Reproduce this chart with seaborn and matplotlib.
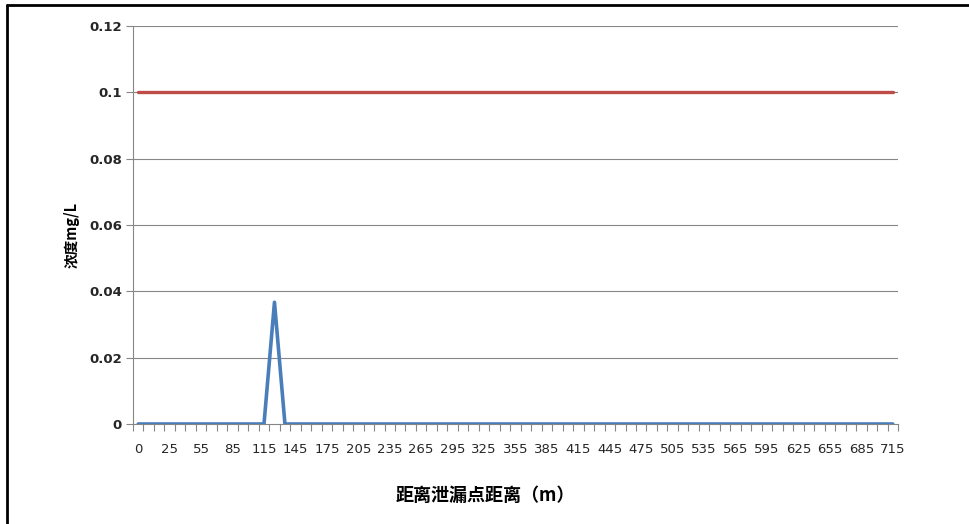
import numpy as np
import pandas as pd
import matplotlib
matplotlib.use("Agg")
import matplotlib.pyplot as plt
from matplotlib.lines import Line2D
import seaborn as sns

# ---- data ----
distances = [0] + list(range(5, 716, 10))          # 0, 5, 15, ..., 715
concentration = [0.0] * len(distances)
concentration[distances.index(125)] = 0.0367
standard = [0.1] * len(distances)
y_ticks = [0, 0.02, 0.04, 0.06, 0.08, 0.1, 0.12]
y_tick_labels = ["0", "0.02", "0.04", "0.06", "0.08", "0.1", "0.12"]
x_label = "距离泄漏点距离（m）"
y_label = "浓度mg/L"

sns.set_theme(style="white")
plt.rcParams['font.family'] = ['Noto Sans CJK SC', 'DejaVu Sans']

n = len(distances)
df = pd.DataFrame({"pos": np.arange(n), "conc": concentration, "std": standard})

fig = plt.figure(figsize=(9.69, 5.24), dpi=100)
ax = fig.add_axes([133/969, 1-424/524, (898-133)/969, (424-26)/524])

grid_c = "#868686"
for y in y_ticks[1:]:
    ax.axhline(y, color=grid_c, lw=0.8, zorder=1)

sns.lineplot(data=df, x="pos", y="std", ax=ax, color="#BE4B48", lw=2.4, zorder=3)
sns.lineplot(data=df, x="pos", y="conc", ax=ax, color="#4A7EBB", lw=2.6, zorder=4)

ax.set_xlim(-0.5, n - 0.5)
ax.set_ylim(0, 0.12)
ax.set_yticks(y_ticks)
ax.set_yticklabels(y_tick_labels, fontsize=9.5, fontweight="bold", color="#262626",
                   family=['DejaVu Sans'])
# category boundary ticks
ax.set_xticks(np.arange(n + 1) - 0.5)
ax.set_xticklabels([])
lab_pos = list(range(0, n, 3))
ax.set_xticks(lab_pos, minor=True)
ax.set_xticklabels([str(distances[i]) for i in lab_pos], minor=True, fontsize=9.5,
                   color="#262626", family=['DejaVu Sans'])
ax.tick_params(axis="x", which="major", length=5, width=0.8, color=grid_c, direction="out", bottom=True)
ax.tick_params(axis="x", which="minor", length=0, pad=14, bottom=True)
ax.tick_params(axis="y", length=5, width=0.8, color=grid_c, direction="out", left=True, pad=3)

for s in ["top", "right"]:
    ax.spines[s].set_visible(False)
for s in ["left", "bottom"]:
    ax.spines[s].set_color(grid_c)
    ax.spines[s].set_linewidth(0.8)

ax.set_xlabel(x_label, fontsize=13, fontweight="bold", color="black")
ax.set_ylabel(y_label, fontsize=10.5, fontweight="bold", color="black")
ax.xaxis.set_label_coords((485 - 133) / 765, -(486 - 424) / 398)
ax.yaxis.set_label_coords(-(133 - 80) / 765, (424 - 235) / 398)

# outer frame (top and left edges visible)
fig.add_artist(Line2D([7/969, 1], [1-5/524, 1-5/524], transform=fig.transFigure, color="black", lw=2))
fig.add_artist(Line2D([7/969, 7/969], [0, 1-5/524], transform=fig.transFigure, color="black", lw=2))

fig.savefig("out.png", dpi=100)
